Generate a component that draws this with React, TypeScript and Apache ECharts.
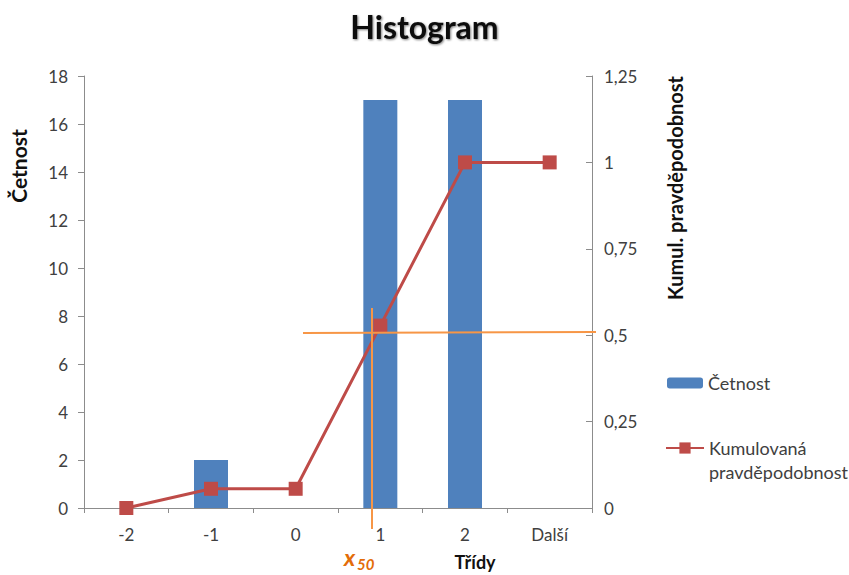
import React, { useEffect, useRef } from "react";
import * as echarts from "echarts";

const categories = ["-2", "-1", "0", "1", "2", "Další"];
const counts = [0, 2, 0, 17, 17, 0];
const cumulative = [0, 0.0556, 0.0556, 0.5278, 1, 1];
const leftTicks = { min: 0, max: 18, interval: 2 };
const rightTicks = { min: 0, max: 1.25, interval: 0.25 };

const FONT = "Lato, 'Open Sans', sans-serif";
const AXIS_GRAY = "#8c8c8c";
const TEXT = "#404040";
const ORANGE = "#F79646";
const ORANGE_DARK = "#E36C09";

export default function App() {
  const ref = useRef<HTMLDivElement>(null);
  useEffect(() => {
    document.body.style.margin = "0";
    if (!ref.current) return;
    const chart = echarts.init(ref.current, null, { renderer: "svg" });
    chart.setOption({
      animation: false,
      backgroundColor: "#ffffff",
      textStyle: { fontFamily: FONT },
      title: {
        text: "Histogram",
        left: "center",
        top: 5,
        textStyle: {
          fontFamily: FONT,
          fontSize: 32,
          fontWeight: "bold",
          color: "#111",
          textShadowColor: "rgba(0,0,0,0.5)",
          textShadowBlur: 2,
          textShadowOffsetX: 1,
          textShadowOffsetY: 1,
        },
      },
      grid: { left: 84, right: 257, top: 76, bottom: 67 },
      legend: [
        {
          data: ["Četnost"],
          left: 662,
          top: 367,
          padding: 5,
          itemWidth: 36,
          itemHeight: 11,
          textStyle: { fontSize: 18, color: TEXT, fontFamily: FONT, lineHeight: 22 },
        },
        {
          data: ["Kumulovaná pravděpodobnost"],
          left: 660,
          top: 407,
          padding: 5,
          itemWidth: 38,
          itemHeight: 14,
          formatter: () => "\nKumulovaná\npravděpodobnost",
          textStyle: { fontSize: 18, color: TEXT, fontFamily: FONT, lineHeight: 24 },
        },
      ],
      xAxis: {
        type: "category",
        data: categories,
        boundaryGap: true,
        axisLine: { lineStyle: { color: AXIS_GRAY, width: 1 } },
        axisTick: { show: true, length: 5, lineStyle: { color: AXIS_GRAY } },
        axisLabel: { fontSize: 17, color: TEXT, margin: 18, fontFamily: FONT },
      },
      yAxis: [
        {
          type: "value",
          min: leftTicks.min,
          max: leftTicks.max,
          interval: leftTicks.interval,
          splitLine: { show: false },
          axisLine: { show: true, lineStyle: { color: AXIS_GRAY } },
          axisTick: { show: true, length: 6, lineStyle: { color: AXIS_GRAY } },
          axisLabel: { fontSize: 17, color: TEXT, margin: 16, fontFamily: FONT },
        },
        {
          type: "value",
          position: "right",
          min: rightTicks.min,
          max: rightTicks.max,
          interval: rightTicks.interval,
          splitLine: { show: false },
          axisLine: { show: true, lineStyle: { color: AXIS_GRAY } },
          axisTick: { show: true, inside: true, length: 6, lineStyle: { color: AXIS_GRAY } },
          axisLabel: {
            fontSize: 17,
            color: TEXT,
            margin: 12,
            fontFamily: FONT,
            formatter: (v: number) => String(v).replace(".", ","),
          },
        },
      ],
      series: [
        {
          name: "Četnost",
          type: "bar",
          data: counts,
          barWidth: 34,
          itemStyle: { color: "#4F81BD" },
          yAxisIndex: 0,
        },
        {
          name: "Kumulovaná pravděpodobnost",
          type: "line",
          data: cumulative,
          yAxisIndex: 1,
          symbol: "rect",
          symbolSize: 14,
          lineStyle: { color: "#BE4B48", width: 3 },
          itemStyle: { color: "#BE4B48" },
          z: 5,
        },
      ],
      graphic: [
        {
          type: "line",
          shape: { x1: 303, y1: 333, x2: 596, y2: 332 },
          style: { stroke: ORANGE, lineWidth: 2 },
          z: 10,
        },
        {
          type: "line",
          shape: { x1: 372, y1: 308, x2: 372, y2: 529 },
          style: { stroke: ORANGE, lineWidth: 2 },
          z: 10,
        },
        {
          type: "text",
          x: 344,
          y: 557,
          style: {
            text: "x",
            fontSize: 23,
            fontStyle: "italic",
            fontWeight: "bold",
            fill: ORANGE_DARK,
            fontFamily: FONT,
            verticalAlign: "middle",
          },
        },
        {
          type: "text",
          x: 357,
          y: 564,
          style: {
            text: "50",
            fontSize: 15,
            fontStyle: "italic",
            fontWeight: "bold",
            fill: ORANGE_DARK,
            fontFamily: FONT,
            verticalAlign: "middle",
          },
        },
        {
          type: "text",
          x: 475,
          y: 562,
          style: {
            text: "Třídy",
            fontSize: 18,
            fontWeight: "bold",
            fill: "#111",
            fontFamily: FONT,
            align: "center",
            verticalAlign: "middle",
          },
        },
        {
          type: "text",
          x: 18,
          y: 166,
          rotation: Math.PI / 2,
          style: {
            text: "Četnost",
            fontSize: 21,
            fontWeight: "bold",
            fill: "#111",
            fontFamily: FONT,
            align: "center",
            verticalAlign: "middle",
          },
        },
        {
          type: "text",
          x: 675,
          y: 188,
          rotation: Math.PI / 2,
          style: {
            text: "Kumul. pravděpodobnost",
            fontSize: 20,
            fontWeight: "bold",
            fill: "#111",
            fontFamily: FONT,
            align: "center",
            verticalAlign: "middle",
          },
        },
      ],
    });
    return () => chart.dispose();
  }, []);
  return <div ref={ref} style={{ width: 849, height: 575 }} />;
}
